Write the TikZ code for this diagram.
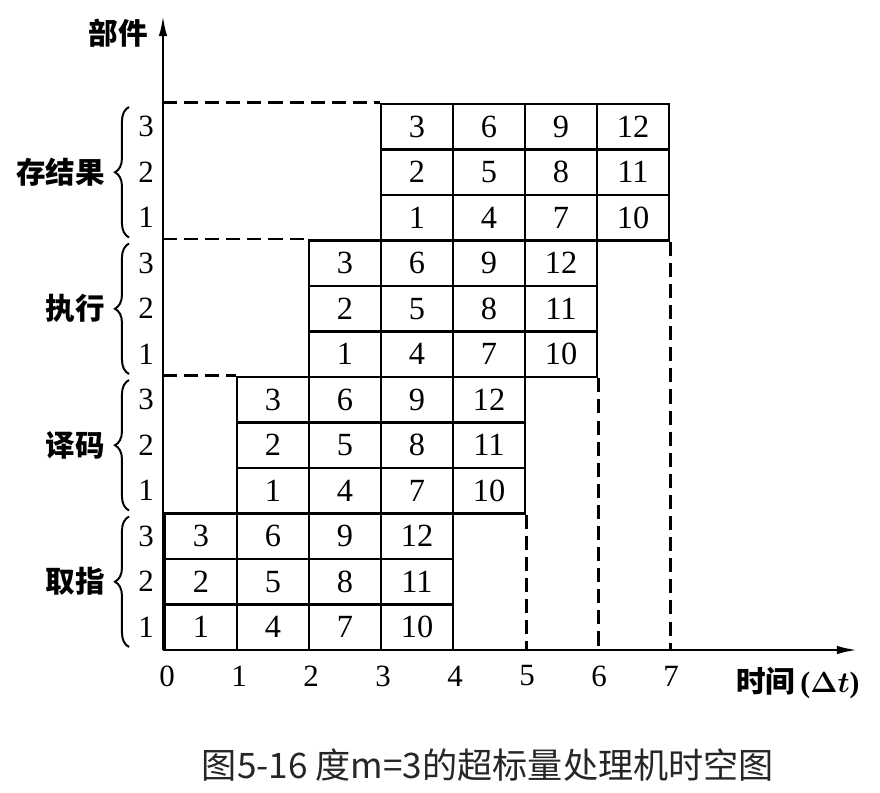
\documentclass[tikz,border=0pt]{standalone}
\usepackage{fontspec}
\setmainfont{Liberation Serif}
\newfontfamily\cjk{Noto Sans CJK SC}
\usepackage{tikz}
\usetikzlibrary{arrows,arrows.meta,shapes,positioning,decorations.pathreplacing}

\begin{document}
\begin{tikzpicture}[x=0.025cm, y=-0.025cm]
\tikzstyle{cell} = [rectangle, draw = black, line width=1.9pt, minimum width=1.8cm, minimum height=1.1375cm, inner sep=0pt, font=\fontsize{23}{23}\selectfont]
\tikzstyle{num} = [font=\fontsize{22}{22}\selectfont]
\tikzstyle{stage} = [font=\cjk\bfseries\fontsize{21}{21}\selectfont]
\tikzstyle{guide} = [line width=1.7pt, dash pattern=on 10pt off 5pt]
\tikzstyle{axis} = [line width=1.9pt, -{Latex[length=15pt,width=6pt]}]
\useasboundingbox (0,0) rectangle (880,793);

% axes
\coordinate (o) at (163,650);
\coordinate (ytop) at (163,15);
\coordinate (xend) at (858,650);
\draw [axis] (o) -- (ytop);
\draw [axis] (o) -- (xend);
\node (part) [stage] at (118,33) {部件};
\node (time) [font=\fontsize{21}{21}\selectfont] at (798,683) {{\cjk\bfseries 时间}\,{\bfseries(\boldmath$\Delta t$)}};
\foreach \k in {0,...,7}
  \node (t\k) [num] at ({167+72*\k},676) {\k};

% instruction cells
\foreach \s in {0,...,3}
  \foreach \c in {0,...,3}
    \foreach \r in {1,2,3} {
      \pgfmathtruncatemacro{\v}{3*\c+\r}
      \node (c-\s-\c-\r) [cell] at ({201+72*(\s+\c)},{627.25-45.5*(3*\s+\r-1)}) {\v};
    }

% stage names, braces and unit numbers
\foreach \s/\name in {0/取指,1/译码,2/执行,3/存结果} {
  \coordinate (bb-\s) at (129,{650-136.5*\s-3});
  \coordinate (bt-\s) at (129,{650-136.5*(\s+1)+3});
  \draw [decorate, decoration={brace, amplitude=10pt}, line width=1.4pt] (bb-\s) -- (bt-\s)
    node (n-\s) [stage, midway, left=13pt] {\name};
  \foreach \r in {1,2,3}
    \node (u-\s-\r) [num] at (146,{627.25-45.5*(3*\s+\r-1)}) {\r};
}

% dashed guides
\foreach \s in {1,2,3} {
  \coordinate (h-\s) at (o |- c-\s-0-3.north west);
  \draw [guide] (h-\s) -- (c-\s-0-3.north west);
  \coordinate (v-\s) at (c-\s-3-1.south east |- o);
  \draw [guide] (c-\s-3-1.south east) -- (v-\s);
}

\node (caption) [font=\cjk\fontsize{25}{25}\selectfont, text=black!85] at (488,765) {图5-16 度m=3的超标量处理机时空图};
\end{tikzpicture}
\end{document}
